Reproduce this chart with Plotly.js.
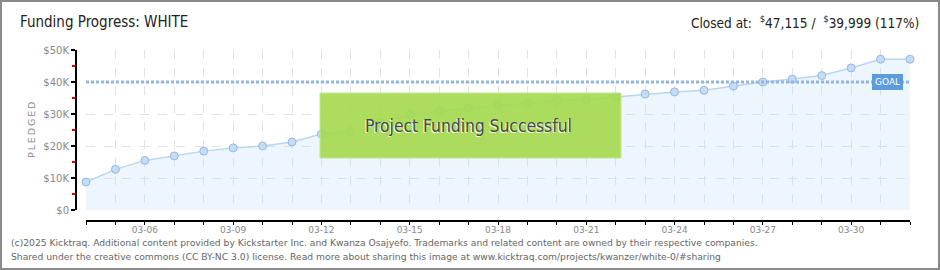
<!DOCTYPE html>
<html>
<head>
<meta charset="utf-8">
<script src="https://cdn.plot.ly/plotly-3.0.1.min.js"></script>
<style>
  html, body { margin: 0; padding: 0; background: #fff; }
  #wrap { position: relative; width: 940px; height: 270px; }
  #chart { width: 940px; height: 270px; }
  #frame { position: absolute; left: 0; top: 0; width: 940px; height: 270px; box-sizing: border-box; border: 2px solid #8a8a8a; pointer-events: none; }
</style>
</head>
<body>
<div id="wrap"><div id="chart"></div><div id="frame"></div></div>
<script>
// ---- data ----
const dates = ['2025-03-04','2025-03-05','2025-03-06','2025-03-07','2025-03-08','2025-03-09','2025-03-10',
               '2025-03-11','2025-03-12','2025-03-13','2025-03-14','2025-03-15','2025-03-16','2025-03-17',
               '2025-03-18','2025-03-19','2025-03-20','2025-03-21','2025-03-22','2025-03-23','2025-03-24',
               '2025-03-25','2025-03-26','2025-03-27','2025-03-28','2025-03-29','2025-03-30','2025-03-31',
               '2025-04-01'];
const pledged = [8750, 12700, 15500, 16900, 18400, 19400, 20000, 21250, 23750, 24500,
                 27300, 29700, 30900, 31800, 32800, 33200, 34200, 34500, 35300, 36250,
                 36900, 37400, 38750, 40000, 40900, 42000, 44400, 47115, 47115];
const goal = 39999;
const firstLabelDate = '2025-03-06';
const xTickFormat = '%m-%d';
const yTickVals = [0, 10000, 20000, 30000, 40000, 50000];
const yTickText = ['$0', '$10K', '$20K', '$30K', '$40K', '$50K'];
const titleText = 'Funding Progress: WHITE';
const closedText = 'Closed at:  <sup>$</sup>47,115 /  <sup>$</sup>39,999 (117%)';
const yAxisLabel = 'P\u2009L\u2009E\u2009D\u2009G\u2009E\u2009D';
const successText = 'Project Funding Successful';
const goalLabel = 'GOAL';
const goalLabelDate = '2025-03-31 06:00';
const footer1 = '(c)2025 Kicktraq. Additional content provided by Kickstarter Inc. and Kwanza Osajyefo. Trademarks and related content are owned by their respective companies.';
const footer2 = 'Shared under the creative commons (CC BY-NC 3.0) license. Read more about sharing this image at www.kicktraq.com/projects/kwanzer/white-0/#sharing';

// ---- geometry helpers (pixel -> paper) ----
const W = 940, H = 270;
const mL = 76, mR = 30, mT = 50, mB = 49;
const pw = W - mL - mR, ph = H - mT - mB;
const px = x => (x - mL) / pw;
const py = y => (H - mB - y) / ph;
const DAY = 86400000;

const condensed = '"DejaVu Sans Condensed", "DejaVu Sans", sans-serif';
const plain = '"DejaVu Sans", sans-serif';

const traces = [{
  type: 'scatter',
  mode: 'lines+markers',
  x: dates,
  y: pledged,
  fill: 'tozeroy',
  fillcolor: 'rgba(200,225,250,0.32)',
  line: { color: '#b9d6f1', width: 1.5 },
  marker: { size: 8, color: '#c4dcf5', line: { color: '#9ab9dc', width: 1 } },
  cliponaxis: false,
  hoverinfo: 'skip'
}];

const layout = {
  width: W, height: H,
  margin: { l: mL, r: mR, t: mT, b: mB, pad: 0 },
  paper_bgcolor: '#fff',
  plot_bgcolor: 'rgba(0,0,0,0)',
  showlegend: false,
  title: {
    text: titleText,
    x: 20 / W, xref: 'container', xanchor: 'left',
    y: 1 - 22 / H, yref: 'container', yanchor: 'middle',
    font: { family: condensed, size: 15, color: '#222' }
  },
  xaxis: {
    type: 'date',
    domain: [px(86), 1],
    range: [dates[0], dates[dates.length - 1]],
    anchor: 'free', position: 0,
    showline: true, linecolor: '#000', linewidth: 2,
    ticks: 'outside', ticklen: 3, tickwidth: 1, tickcolor: '#000',
    tick0: firstLabelDate, dtick: 3 * DAY, tickformat: xTickFormat,
    ticklabelstandoff: -3,
    tickfont: { family: plain, size: 9, color: '#888' },
    showgrid: true, gridcolor: '#dfe2e6', griddash: 'dash', gridwidth: 1,
    minor: { tick0: firstLabelDate, dtick: DAY, ticks: 'outside', ticklen: 3, tickwidth: 1, tickcolor: '#000',
             showgrid: true, gridcolor: '#dfe2e6', griddash: 'dash', gridwidth: 1 },
    zeroline: false, fixedrange: true
  },
  yaxis: {
    domain: [py(210), 1],
    range: [0, 50000],
    anchor: 'free', position: 0,
    showline: true, linecolor: '#000', linewidth: 2,
    ticks: 'outside', ticklen: 4, tickwidth: 2, tickcolor: '#000',
    tickvals: yTickVals, ticktext: yTickText,
    tickfont: { family: plain, size: 10, color: '#888' },
    minor: { dtick: 5000, ticks: 'outside', ticklen: 3, tickwidth: 2, tickcolor: '#e00000', showgrid: false },
    showgrid: true, gridcolor: '#dfe2e6', griddash: 'dash', gridwidth: 1,
    zeroline: false, fixedrange: true
  },
  shapes: [
    { type: 'line', xref: 'x', yref: 'y', x0: dates[0], x1: dates[dates.length - 1], y0: goal, y1: goal,
      line: { color: '#93b6e0', width: 3, dash: '3px,2px' }, layer: 'above' },
    { type: 'rect', xref: 'paper', yref: 'paper', x0: px(320), x1: px(621), y0: py(158), y1: py(93),
      fillcolor: 'rgba(164,217,76,0.9)', line: { color: '#c4e690', width: 1 }, layer: 'above' }
  ],
  annotations: [
    { text: closedText, xref: 'paper', yref: 'paper', x: px(921), y: py(22),
      xanchor: 'right', yanchor: 'middle', showarrow: false,
      font: { family: condensed, size: 13.5, color: '#222' } },
    { text: yAxisLabel, xref: 'paper', yref: 'paper', x: px(31), y: py(130),
      xanchor: 'center', yanchor: 'middle', textangle: -90, showarrow: false,
      font: { family: plain, size: 9.5, color: '#888' } },
    { text: goalLabel, xref: 'x', yref: 'y', x: goalLabelDate, y: goal,
      xanchor: 'center', yanchor: 'middle', showarrow: false,
      bgcolor: '#5b9cdc', bordercolor: '#5b9cdc', borderpad: 2,
      font: { family: plain, size: 9, color: '#fff' } },
    { text: successText, xref: 'paper', yref: 'paper', x: px(468), y: py(126),
      xanchor: 'center', yanchor: 'middle', showarrow: false,
      font: { family: condensed, size: 17.3, color: '#4a4a4a', shadow: '-1px 1px 0px rgba(255,255,255,0.9)' } },
    { text: footer1, xref: 'paper', yref: 'paper', x: px(9), y: py(242),
      xanchor: 'left', yanchor: 'middle', showarrow: false, align: 'left',
      font: { family: plain, size: 9.2, color: '#666' } },
    { text: footer2, xref: 'paper', yref: 'paper', x: px(9), y: py(256),
      xanchor: 'left', yanchor: 'middle', showarrow: false, align: 'left',
      font: { family: plain, size: 9.2, color: '#666' } }
  ]
};

Plotly.newPlot('chart', traces, layout, { staticPlot: true, displayModeBar: false });
</script>
</body>
</html>
